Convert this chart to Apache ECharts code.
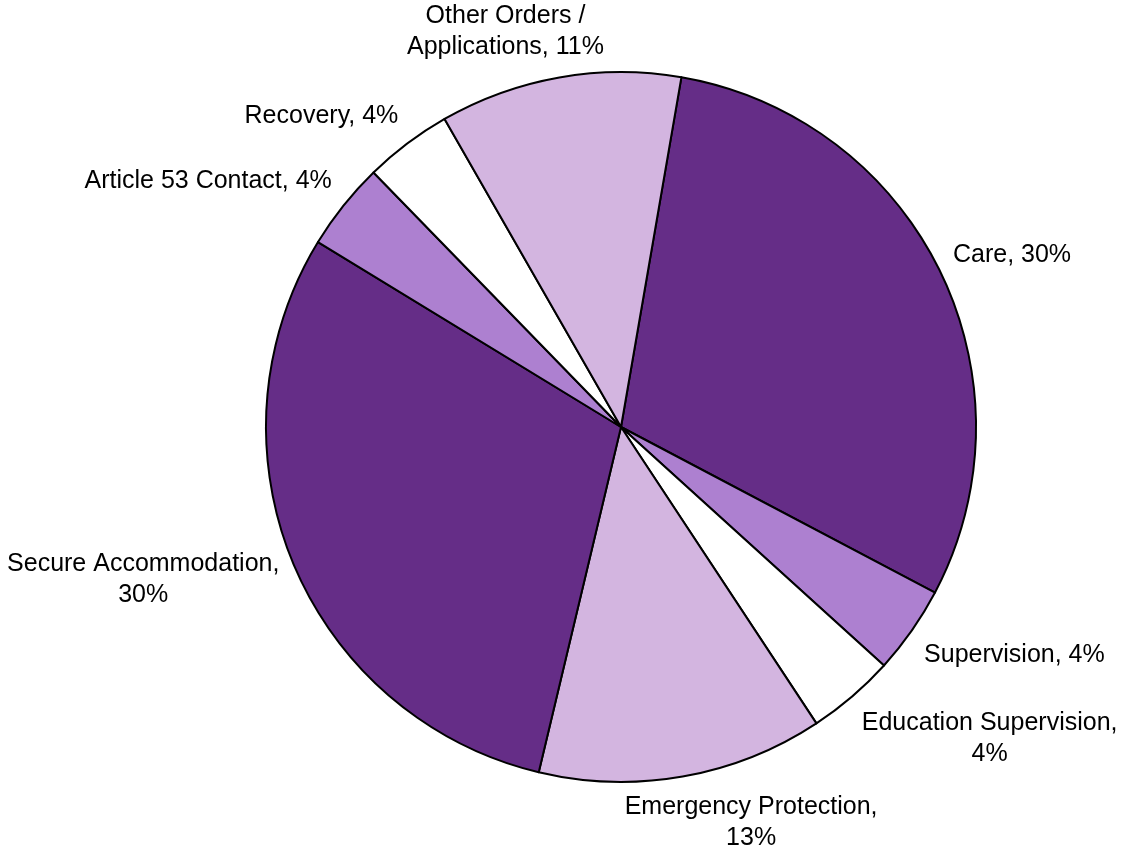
<!DOCTYPE html>
<html>
<head>
<meta charset="utf-8">
<script src="https://cdn.jsdelivr.net/npm/echarts@6/dist/echarts.min.js"></script>
<style>
  html, body { margin: 0; padding: 0; background: #ffffff; }
  #chart { width: 1121px; height: 852px; }
</style>
</head>
<body>
<div id="chart"></div>
<script>
// Order categories, clockwise from the top
const categories = [
  'Care',
  'Supervision',
  'Education Supervision',
  'Emergency Protection',
  'Secure Accommodation',
  'Article 53 Contact',
  'Recovery',
  'Other Orders / Applications'
];
// Share of orders, percent
const shares = [30, 4, 4, 13, 30, 4, 4, 11];

const sliceColors = ['#652d87', '#ad80d0', '#ffffff', '#d3b5e0', '#652d87', '#ad80d0', '#ffffff', '#d3b5e0'];

// Pie geometry
const CX = 621, CY = 427, R = 355, START_ANGLE = 80.2, LABEL_GAP = 15;
const total = shares.reduce((a, b) => a + b, 0);

// Unit vector (screen coords) pointing through the middle of slice i
function midDirection(i) {
  let before = 0;
  for (let k = 0; k < i; k++) before += shares[k];
  const frac = (before + shares[i] / 2) / total;
  const theta = (90 - START_ANGLE + frac * 360) * Math.PI / 180;
  return [Math.sin(theta), -Math.cos(theta)];
}

function labelText(name, v) {
  if (name.includes(' / ')) return name.replace(' / ', ' /\n') + ', ' + v + '%';
  if (name.length >= 20) return name + ',\n' + v + '%';
  return name + ', ' + v + '%';
}

const chart = echarts.init(document.getElementById('chart'), null, { renderer: 'canvas' });

chart.setOption({
  animation: false,
  backgroundColor: '#ffffff',
  series: [{
    type: 'pie',
    center: [CX, CY],
    radius: R,
    startAngle: START_ANGLE,
    clockwise: true,
    avoidLabelOverlap: false,
    emphasis: { disabled: true },
    silent: true,
    itemStyle: { borderColor: '#000000', borderWidth: 2 },
    label: {
      show: true,
      position: 'outside',
      color: '#000000',
      fontFamily: '"Liberation Sans", Arial, sans-serif',
      fontSize: 25,
      lineHeight: 31,
      formatter: p => labelText(p.name, p.value)
    },
    labelLine: { show: false },
    labelLayout: function (p) {
      const [ux, uy] = midDirection(p.dataIndex);
      const px = CX + (R + LABEL_GAP) * ux;
      const py = CY + (R + LABEL_GAP) * uy;
      const fx = Math.max(-1, Math.min(1, 3 * ux));
      const fy = Math.sign(uy) * Math.max(0, Math.min(1, (Math.abs(uy) - 0.3) * 4));
      return {
        x: px + fx * p.labelRect.width / 2,
        y: py + fy * p.labelRect.height / 2,
        align: 'center',
        verticalAlign: 'middle'
      };
    },
    data: categories.map((name, i) => ({
      name: name,
      value: shares[i],
      itemStyle: { color: sliceColors[i] }
    }))
  }]
});
</script>
</body>
</html>
